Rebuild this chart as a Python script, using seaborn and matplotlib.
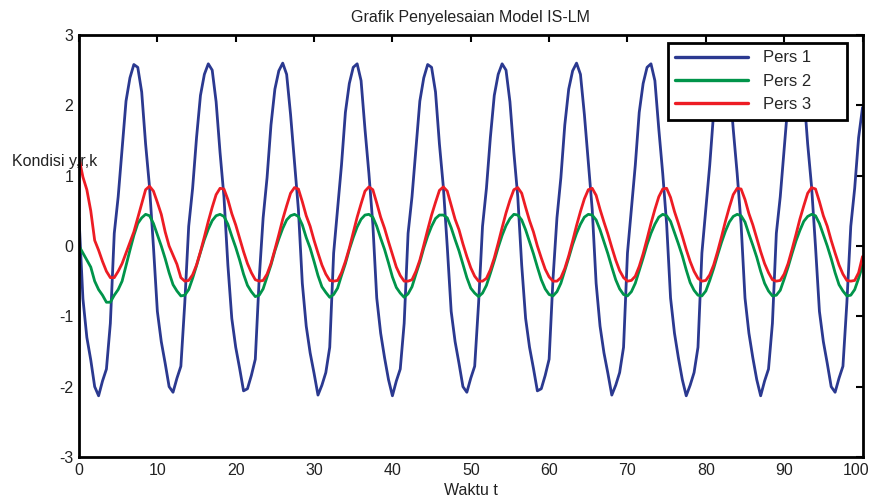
import matplotlib

matplotlib.use("Agg")
import matplotlib.pyplot as plt
import matplotlib.transforms as mtransforms
import numpy as np
import pandas as pd
import seaborn as sns

# time axis, step 0.5
waktu = np.arange(0, 100.5, 0.5)

pers1 = [
    0.4, -0.75, -1.3, -1.62, -2.0,
    -2.13, -1.92, -1.75, -1.1, 0.18, 0.7, 1.38, 2.06, 2.39, 2.58, 2.54, 2.19, 1.45, 0.84, -0.01, -0.93, -1.36, -1.67, -2.0,
    -2.08, -1.88, -1.71, -0.81, 0.28, 0.82, 1.54, 2.14, 2.44, 2.59, 2.5, 2.05, 1.33, 0.7, -0.27, -1.03, -1.44, -1.74, -2.06,
    -2.03, -1.84, -1.61, -0.46, 0.4, 0.97, 1.72, 2.23, 2.49, 2.6, 2.44, 1.87, 1.19, 0.52, -0.53, -1.14, -1.52, -1.81, -2.12,
    -1.98, -1.8, -1.44, -0.1, 0.53, 1.15, 1.9, 2.31, 2.54, 2.59, 2.35, 1.66, 1.03, 0.31, -0.74, -1.24, -1.59, -1.9,
    -2.13, -1.92, -1.75, -1.1, 0.18, 0.7, 1.38, 2.06, 2.39, 2.58, 2.54, 2.19, 1.45, 0.84, -0.01, -0.93, -1.36, -1.67, -2.0,
    -2.08, -1.88, -1.71, -0.81, 0.28, 0.82, 1.54, 2.14, 2.44, 2.59, 2.5, 2.05, 1.33, 0.7, -0.27, -1.03, -1.44, -1.74, -2.06,
    -2.03, -1.84, -1.61, -0.46, 0.4, 0.97, 1.72, 2.23, 2.49, 2.6, 2.44, 1.87, 1.19, 0.52, -0.53, -1.14, -1.52, -1.81, -2.12,
    -1.98, -1.8, -1.44, -0.1, 0.53, 1.15, 1.9, 2.31, 2.54, 2.59, 2.35, 1.66, 1.03, 0.31, -0.74, -1.24, -1.59, -1.9, -2.13,
    -1.98, -1.8, -1.44, -0.1, 0.53, 1.15, 1.9, 2.31, 2.54, 2.59, 2.35, 1.66, 1.03, 0.31, -0.74, -1.24, -1.59, -1.9,
    -2.13, -1.92, -1.75, -1.1, 0.18, 0.7, 1.38, 2.06, 2.39, 2.58, 2.54, 2.19, 1.45, 0.84, -0.01, -0.93, -1.36, -1.67, -2.0,
    -2.08, -1.88, -1.71, -0.81, 0.28, 0.82, 1.54, 1.97,
]

pers2 = [
    0.0, -0.1, -0.2, -0.3, -0.5, -0.62, -0.7, -0.8, -0.8, -0.7, -0.62, -0.5, -0.28, -0.06, 0.15, 0.32, 0.4, 0.45,
    0.43, 0.32, 0.16, 0.0, -0.18, -0.38, -0.55, -0.64, -0.71, -0.70, -0.62, -0.46, -0.28, -0.09, 0.09, 0.24, 0.36, 0.43, 0.45,
    0.42, 0.31, 0.14, -0.02, -0.2, -0.4, -0.56, -0.65, -0.72, -0.70, -0.61, -0.44, -0.27, -0.07, 0.1, 0.25, 0.37, 0.43,
    0.45, 0.42, 0.30, 0.12, -0.03, -0.22, -0.42, -0.58, -0.66, -0.73, -0.69, -0.60, -0.42, -0.25, -0.05, 0.12, 0.27, 0.38, 0.44,
    0.45, 0.41, 0.28, 0.11, -0.05, -0.24, -0.44, -0.59, -0.67, -0.73, -0.68, -0.58, -0.40, -0.23, -0.03, 0.14, 0.28, 0.39, 0.44,
    0.44, 0.40, 0.26, 0.09, -0.07, -0.26, -0.45, -0.6, -0.67, -0.72, -0.67, -0.56, -0.39, -0.21, -0.02, 0.15, 0.29, 0.39, 0.45,
    0.44, 0.37, 0.23, 0.06, -0.11, -0.30, -0.48, -0.61, -0.69, -0.71, -0.65, -0.53, -0.35, -0.17, 0.02, 0.18, 0.31, 0.41, 0.45,
    0.44, 0.37, 0.23, 0.06, -0.11, -0.30, -0.48, -0.61, -0.69, -0.71, -0.65, -0.53, -0.35, -0.17, 0.02, 0.18, 0.31, 0.41, 0.45,
    0.43, 0.35, 0.19, 0.03, -0.14, -0.34, -0.52, -0.63, -0.70, -0.71, -0.64, -0.49, -0.32, -0.13, 0.05, 0.21, 0.34, 0.42, 0.45,
    0.43, 0.34, 0.17, 0.01, -0.16, -0.36, -0.53, -0.64, -0.71, -0.70, -0.63, -0.47, -0.30, -0.11, 0.07, 0.22, 0.35, 0.42, 0.45,
    0.43, 0.32, 0.16, 0.0, -0.18, -0.38, -0.55, -0.64, -0.71, -0.70, -0.62, -0.46, -0.28,
]

pers3 = [
    1.25, 0.98, 0.8, 0.5, 0.08, -0.06, -0.22, -0.36, -0.45, -0.45, -0.36, -0.25, -0.1, 0.05, 0.2, 0.4, 0.6, 0.8, 0.85, 0.78,
    0.62, 0.45, 0.2, 0.0, -0.13, -0.26, -0.45, -0.5,
    -0.49, -0.41, -0.27, -0.08, 0.13, 0.35, 0.55, 0.73, 0.82, 0.81, 0.66, 0.46, 0.30, 0.11, -0.08, -0.25, -0.38, -0.48, -0.5,
    -0.49, -0.4, -0.25, -0.05, 0.16, 0.38, 0.57, 0.75, 0.83, 0.81, 0.63, 0.43, 0.28, 0.08, -0.1, -0.27, -0.4, -0.49, -0.5,
    -0.49, -0.38, -0.22, -0.03, 0.19, 0.41, 0.6, 0.78, 0.84, 0.8, 0.61, 0.41, 0.25, 0.06, -0.12, -0.3, -0.42, -0.5,
    -0.5, -0.48, -0.36, -0.2, 0.01, 0.23, 0.44, 0.62, 0.79, 0.84, 0.78, 0.58, 0.38, 0.23, 0.03, -0.15, -0.31, -0.43, -0.5,
    -0.5, -0.46, -0.34, -0.17, 0.04, 0.26, 0.47, 0.65, 0.80, 0.83, 0.75, 0.55, 0.36, 0.2, 0.0, -0.17, -0.33, -0.44, -0.5,
    -0.5, -0.45, -0.32, -0.14, 0.07, 0.29, 0.49, 0.67, 0.80, 0.82, 0.72, 0.52, 0.34, 0.17, -0.02, -0.2, -0.35, -0.45, -0.5,
    -0.49, -0.43, -0.29, -0.11, 0.10, 0.32, 0.52, 0.70, 0.81, 0.82, 0.69, 0.49, 0.32, 0.14, -0.05, -0.22, -0.36, -0.46, -0.5,
    -0.49, -0.41, -0.27, -0.08, 0.13, 0.35, 0.55, 0.73, 0.82, 0.81, 0.66, 0.46, 0.30, 0.11, -0.08, -0.25, -0.38, -0.48, -0.5,
    -0.49, -0.4, -0.25, -0.05, 0.16, 0.38, 0.57, 0.75, 0.83, 0.81, 0.63, 0.43, 0.28, 0.08, -0.1, -0.27, -0.4, -0.49, -0.5,
    -0.49, -0.38, -0.15,
]

seri = ["Pers 1", "Pers 2", "Pers 3"]
warna = ["#2b3990", "#00944a", "#ed1c24"]

df = pd.concat(
    [
        pd.DataFrame({"t": waktu, "nilai": pers1, "seri": seri[0]}),
        pd.DataFrame({"t": waktu, "nilai": pers2, "seri": seri[1]}),
        pd.DataFrame({"t": waktu, "nilai": pers3, "seri": seri[2]}),
    ],
    ignore_index=True,
)

sns.set_theme(style="white")
plt.rcParams["font.family"] = ["Liberation Sans", "DejaVu Sans"]
plt.rcParams["axes.unicode_minus"] = False

fig = plt.figure(figsize=(8.73, 5.04), dpi=100)
ax = fig.add_axes([0.0905, 0.0933, 0.8975, 0.8373])

sns.lineplot(data=df, x="t", y="nilai", hue="seri", palette=warna, linewidth=2.0, ax=ax, legend=True)

ax.set_xlim(0, 100)
ax.set_ylim(-3, 3)
ax.set_xticks(range(0, 101, 10))
ax.set_yticks(range(-3, 4))
ax.tick_params(direction="in", length=5, width=1.5, top=True, right=True, labelsize=11.5,
               color="black", labelcolor="#222222", pad=4)
for s in ax.spines.values():
    s.set_linewidth(2.0)
    s.set_color("black")

# keep the "100" label inside the canvas
last = ax.xaxis.get_major_ticks()[-1].label1
last.set_transform(last.get_transform() + mtransforms.ScaledTranslation(-5 / 72, 0, fig.dpi_scale_trans))

ax.set_title("Grafik Penyelesaian Model IS-LM", fontsize=11.5, pad=9, color="#222222")
ax.set_xlabel("Waktu t", fontsize=11.5, color="#222222", labelpad=4)
ax.set_ylabel("Kondisi y,r,k", fontsize=11.5, rotation=0, ha="left", va="center", color="#222222")
ax.yaxis.set_label_coords(-0.085, 0.70)

handles, labels = ax.get_legend_handles_labels()
labels = [lab + "      " for lab in labels]
leg = ax.legend(handles, labels, loc="upper right", bbox_to_anchor=(0.98, 0.981), fancybox=False,
                frameon=True, edgecolor="black", framealpha=1, handlelength=4.4,
                prop={"size": 12}, borderpad=0.45, labelspacing=0.5, handletextpad=0.9,
                borderaxespad=0)
leg.get_frame().set_linewidth(2.0)
for h in leg.get_lines():
    h.set_linewidth(2.4)

fig.savefig("out.png", dpi=100)
plt.close(fig)
